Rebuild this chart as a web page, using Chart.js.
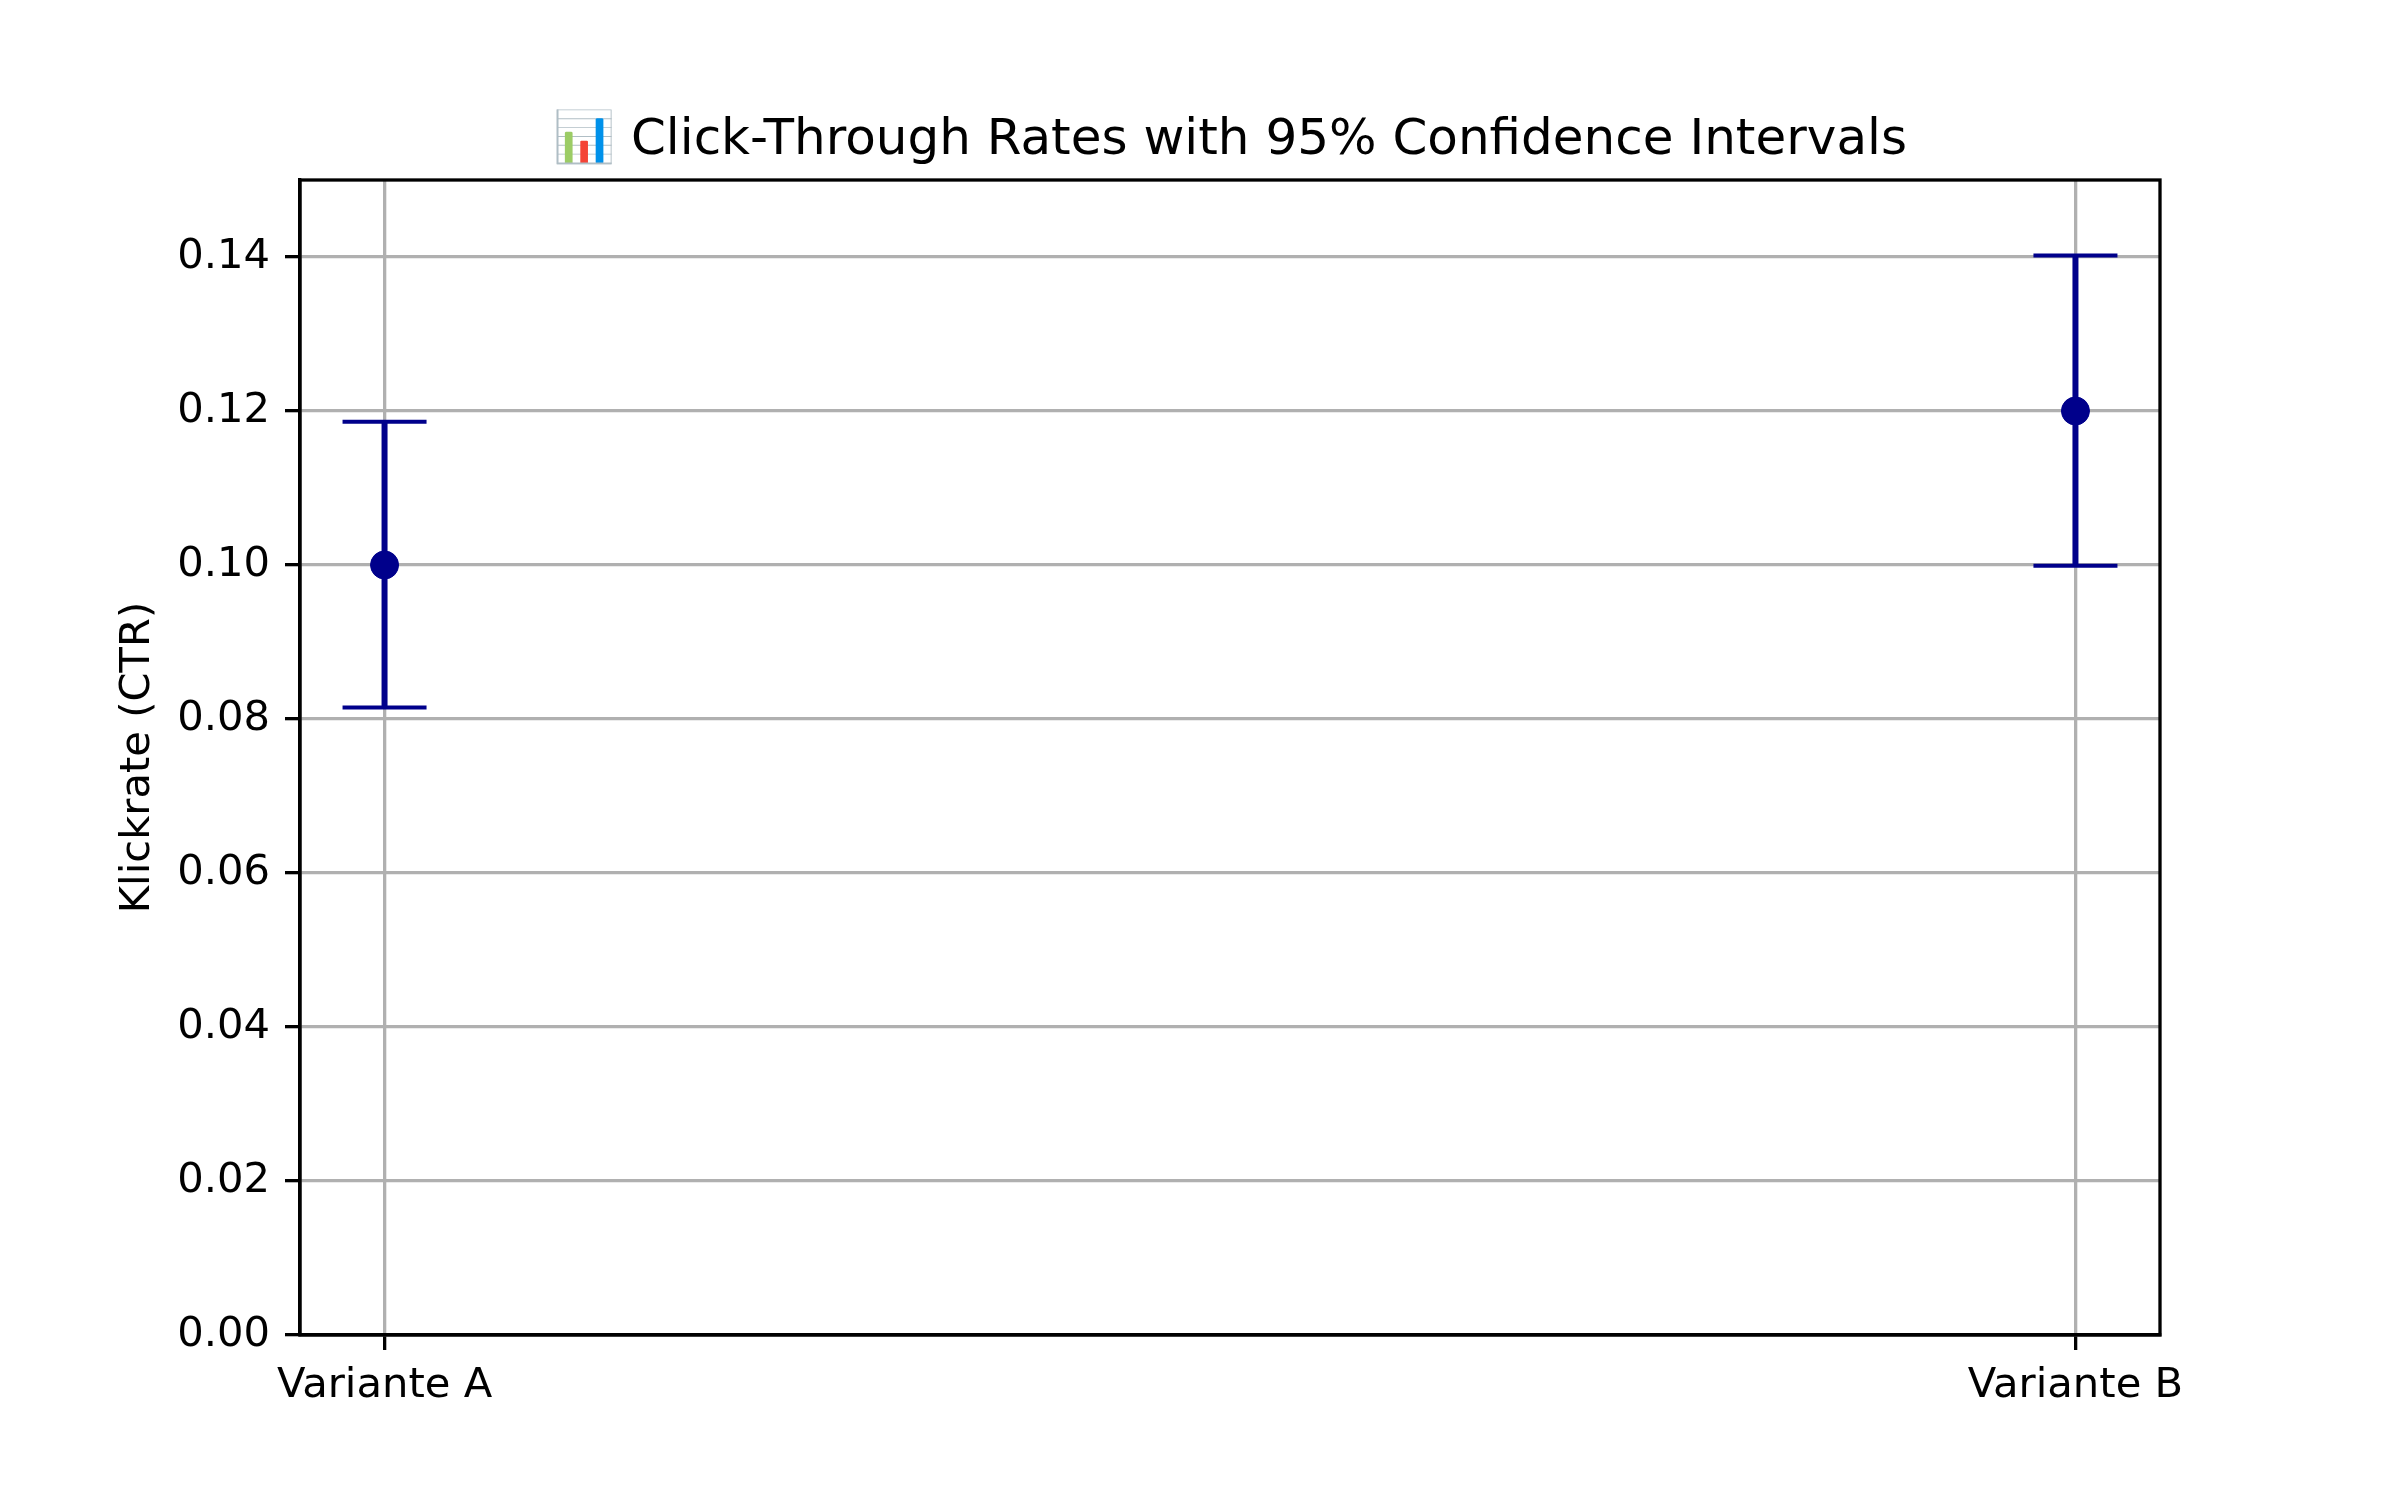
<!DOCTYPE html>
<html>
<head>
<meta charset="utf-8">
<script src="https://cdn.jsdelivr.net/npm/chart.js@4.4.1/dist/chart.umd.min.js"></script>
<style>
html,body{margin:0;padding:0;background:#fff;}
#wrap{width:2400px;height:1500px;}
</style>
</head>
<body>
<div id="wrap"><canvas id="c" width="2400" height="1500"></canvas></div>
<script>
const categories = ['Variante A', 'Variante B'];
const ctr = [0.100, 0.120];
const ciLow = [0.0815, 0.0999];
const ciHigh = [0.1186, 0.1402];
const yTicks = [0.00, 0.02, 0.04, 0.06, 0.08, 0.10, 0.12, 0.14];
const titleText = '\u{1F4CA} Click-Through Rates with 95% Confidence Intervals';
const yLabel = 'Klickrate (CTR)';

const FONT = "'DejaVu Sans', sans-serif";
const NAVY = '#00008B';
const GRID = '#b0b0b0';

const errorBars = {
  id: 'errorBars',
  beforeDatasetsDraw(chart) {
    const {ctx, scales: {x, y}} = chart;
    ctx.save();
    ctx.strokeStyle = NAVY;
    ctx.lineCap = 'butt';
    for (let i = 0; i < ctr.length; i++) {
      const px = x.getPixelForValue(i);
      const pl = y.getPixelForValue(ciLow[i]);
      const ph = y.getPixelForValue(ciHigh[i]);
      ctx.lineWidth = 6;
      ctx.beginPath();
      ctx.moveTo(px, pl);
      ctx.lineTo(px, ph);
      ctx.stroke();
      ctx.lineWidth = 4;
      ctx.beginPath();
      ctx.moveTo(px - 42, pl); ctx.lineTo(px + 42, pl);
      ctx.moveTo(px - 42, ph); ctx.lineTo(px + 42, ph);
      ctx.stroke();
    }
    ctx.restore();
  }
};

const frame = {
  id: 'frame',
  afterDraw(chart) {
    const {ctx, chartArea: a} = chart;
    ctx.save();
    ctx.strokeStyle = '#000';
    ctx.lineWidth = 3.3;
    ctx.strokeRect(a.left, a.top, a.right - a.left, a.bottom - a.top);
    ctx.restore();
  }
};

new Chart(document.getElementById('c'), {
  type: 'scatter',
  data: {
    datasets: [{
      data: ctr.map((v, i) => ({x: i, y: v})),
      backgroundColor: NAVY,
      borderColor: NAVY,
      pointRadius: 14,
      pointHoverRadius: 14,
      borderWidth: 1
    }]
  },
  options: {
    responsive: false,
    animation: false,
    devicePixelRatio: 1,
    layout: {padding: {left: 0, right: 240, top: 0, bottom: 0}},
    plugins: {
      legend: {display: false},
      tooltip: {enabled: false},
      title: {
        display: true,
        text: titleText,
        fullSize: false,
        color: '#000',
        font: {family: FONT, size: 50, weight: 'normal', lineHeight: 1.2},
        padding: {top: 111, bottom: 9}
      }
    },
    scales: {
      x: {
        type: 'linear',
        min: -0.05,
        max: 1.05,
        afterBuildTicks(s) { s.ticks = categories.map((c, i) => ({value: i})); },
        afterFit(s) { s.height = 165; },
        ticks: {
          color: '#000',
          font: {family: FONT, size: 41.7},
          padding: 11,
          maxRotation: 0,
          callback: (v) => categories[v]
        },
        grid: {color: GRID, lineWidth: 3.3, tickColor: '#000', tickWidth: 3.3, tickLength: 15},
        border: {display: true, color: '#000', width: 3.3}
      },
      y: {
        type: 'linear',
        min: 0,
        max: 0.15,
        afterBuildTicks(s) { s.ticks = yTicks.map(v => ({value: v})); },
        afterFit(s) { s.width = 300; },
        ticks: {
          color: '#000',
          font: {family: FONT, size: 41.7},
          padding: 15,
          callback: (v) => Number(v).toFixed(2)
        },
        grid: {color: GRID, lineWidth: 3.3, tickColor: '#000', tickWidth: 3.3, tickLength: 15},
        border: {display: true, color: '#000', width: 3.3},
        title: {
          display: true,
          text: yLabel,
          color: '#000',
          font: {family: FONT, size: 41.7, lineHeight: 1.2},
          padding: {top: 113, bottom: 0}
        }
      }
    }
  },
  plugins: [errorBars, frame]
});
</script>
</body>
</html>
